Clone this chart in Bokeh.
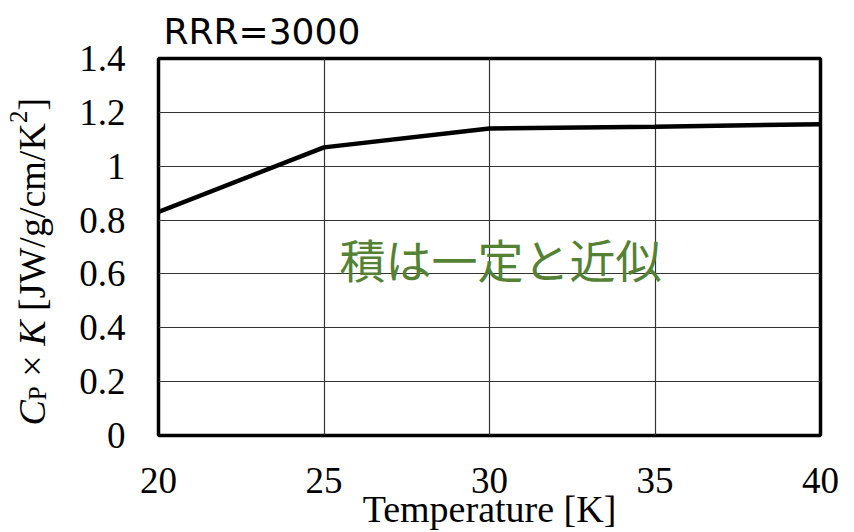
import math
from bokeh.plotting import figure
from bokeh.models import Range1d, FixedTicker, Label
from bokeh.layouts import row
from bokeh.embed import file_html
from bokeh.resources import INLINE

# ---- data ----
temperature = [20, 25, 30, 35, 40]
cp_times_k = [0.83, 1.07, 1.14, 1.147, 1.156]

x_ticks = [20, 25, 30, 35, 40]
x_tick_labels = ["20", "25", "30", "35", "40"]
y_ticks = [0, 0.2, 0.4, 0.6, 0.8, 1.0, 1.2, 1.4]
y_tick_labels = ["0", "0.2", "0.4", "0.6", "0.8", "1", "1.2", "1.4"]

title_text = "RRR=3000"
x_label_text = "Temperature [K]"
note_text = "積は一定と近似"

SERIF = "Liberation Serif"
LEFT_W = 70
W, H = 846, 532

# ---- main chart ----
p = figure(width=W - LEFT_W, height=H, output_backend="svg", toolbar_location=None,
           x_range=Range1d(20, 40), y_range=Range1d(0, 1.4), title=title_text,
           min_border_left=158 - LEFT_W, min_border_right=26,
           min_border_top=58, min_border_bottom=97)
p.background_fill_color = "white"
p.border_fill_color = "white"
p.outline_line_color = "black"
p.outline_line_width = 3.5

p.title.align = "left"
p.title.vertical_align = "bottom"
p.title.offset = 5
p.title.text_font = "DejaVu Sans"
p.title.text_font_size = "36px"
p.title.text_font_style = "normal"
p.title.text_color = "black"
p.title.standoff = 14

p.line(temperature, cp_times_k, line_color="black", line_width=4.5)

for ax in (p.xaxis[0], p.yaxis[0]):
    ax.axis_line_color = None
    ax.major_tick_line_color = None
    ax.minor_tick_line_color = None
    ax.major_tick_in = 0
    ax.major_tick_out = 0
    ax.major_label_text_font = SERIF
    ax.major_label_text_font_size = "37px"
    ax.major_label_text_color = "black"

p.xaxis.ticker = FixedTicker(ticks=x_ticks)
p.xaxis.major_label_overrides = {t: s for t, s in zip(x_ticks, x_tick_labels)}
p.xaxis.major_label_standoff = 32
p.xaxis.axis_label = x_label_text
p.xaxis.axis_label_text_font = SERIF
p.xaxis.axis_label_text_font_size = "38px"
p.xaxis.axis_label_text_font_style = "normal"
p.xaxis.axis_label_text_color = "black"
p.xaxis.axis_label_standoff = -8

p.yaxis.ticker = FixedTicker(ticks=y_ticks)
p.yaxis.major_label_overrides = {t: s for t, s in zip(y_ticks, y_tick_labels)}
p.yaxis.major_label_standoff = 33

p.xgrid.ticker = FixedTicker(ticks=x_ticks)
p.ygrid.ticker = FixedTicker(ticks=y_ticks)
for g in (p.xgrid[0], p.ygrid[0]):
    g.grid_line_color = "#333333"
    g.grid_line_width = 1.2

# green note
p.add_layout(Label(x=30.33, y=0.66, x_units="data", y_units="data",
                   text=note_text, text_font="Noto Sans CJK JP",
                   text_font_size="46px", text_color="#548235",
                   text_align="center", text_baseline="middle"))

# ---- left strip holding the rich y-axis title (rotated pieces) ----
lf = figure(width=LEFT_W, height=H, output_backend="svg", toolbar_location=None,
            x_axis_type=None, y_axis_type=None,
            x_range=Range1d(0, 1), y_range=Range1d(0, 1),
            min_border=0, min_border_left=0, min_border_right=0,
            min_border_top=0, min_border_bottom=0)
lf.outline_line_color = None
lf.background_fill_color = "white"
lf.border_fill_color = "white"
lf.grid.visible = False

F = 38
FS = 25
pieces = [
    # text, size, style, advance(px incl. following gap), baseline shift (+ = toward glyph top)
    ("C", F, "italic", 0.667 * F, 0),
    ("P", FS, "normal", 0.556 * FS + 0.25 * F, -6),
    ("\u00d7", F, "normal", 0.564 * F + 0.25 * F, 0),
    ("K", F, "italic", 0.667 * F + 0.25 * F, 0),
    ("[JW/g/cm/K", F, "normal", 4.944 * F, 0),
    ("2", FS, "normal", 0.5 * FS, 13),
    ("]", F, "normal", 0.333 * F, 0),
]
base_x = 31
pos = 10.0
for txt, size, style, adv, shift in pieces:
    lf.add_layout(Label(x=base_x - shift, y=pos, x_units="screen", y_units="screen",
                        text=txt, angle=math.pi / 2, text_font=SERIF,
                        text_font_size=f"{size}px", text_font_style=style,
                        text_color="black", text_align="left",
                        text_baseline="alphabetic"))
    pos += adv

layout = row(lf, p)
open("out.html", "w").write(file_html(layout, INLINE))
